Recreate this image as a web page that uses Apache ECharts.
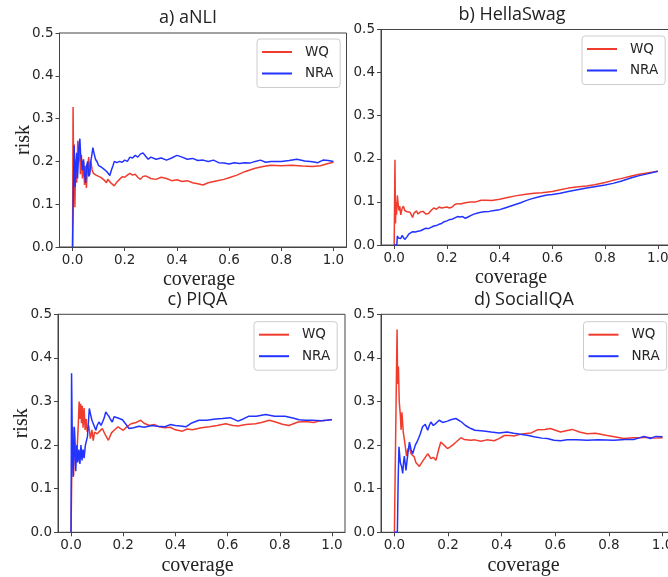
<!DOCTYPE html>
<html>
<head>
<meta charset="utf-8">
<script src="https://cdn.jsdelivr.net/npm/echarts@6/dist/echarts.min.js"></script>
<style>
html,body{margin:0;padding:0;background:#fff;}
#chart{width:668px;height:577px;}
</style>
</head>
<body>
<div id="chart"></div>
<script>
// ---- data ----
const panelTitles = ['a) aNLI', 'b) HellaSwag', 'c) PIQA', 'd) SocialIQA'];
const seriesNames = ['WQ', 'NRA'];
const xTickValues = [0, 0.2, 0.4, 0.6, 0.8, 1.0];
const yTickValues = [0, 0.1, 0.2, 0.3, 0.4, 0.5];

const aNLI_WQ = [[0,0],[0.002,0.327],[0.004,0.2],[0.006,0.24],[0.009,0.093],[0.012,0.2],[0.016,0.15],[0.02,0.248],[0.024,0.2],[0.027,0.235],[0.03,0.17],[0.034,0.215],[0.038,0.16],[0.042,0.2],[0.046,0.145],[0.05,0.19],[0.053,0.138],[0.057,0.18],[0.062,0.21],[0.066,0.175],[0.07,0.2],[0.075,0.18],[0.08,0.172],[0.09,0.168],[0.1,0.165],[0.11,0.162],[0.12,0.157],[0.13,0.15],[0.135,0.158],[0.14,0.156],[0.15,0.148],[0.16,0.143],[0.17,0.152],[0.18,0.158],[0.19,0.164],[0.2,0.163],[0.21,0.168],[0.22,0.172],[0.23,0.168],[0.24,0.17],[0.25,0.163],[0.26,0.158],[0.27,0.165],[0.28,0.166],[0.3,0.16],[0.32,0.158],[0.34,0.163],[0.36,0.16],[0.38,0.155],[0.4,0.157],[0.42,0.153],[0.44,0.155],[0.46,0.15],[0.48,0.148],[0.5,0.145],[0.52,0.15],[0.55,0.154],[0.58,0.158],[0.6,0.162],[0.63,0.168],[0.66,0.176],[0.7,0.184],[0.73,0.188],[0.76,0.191],[0.8,0.19],[0.84,0.191],[0.88,0.189],[0.92,0.188],[0.95,0.19],[0.98,0.195],[1.0,0.198]];
const aNLI_NRA = [[0,0],[0.004,0],[0.006,0.237],[0.008,0.2],[0.01,0.14],[0.013,0.19],[0.016,0.22],[0.019,0.16],[0.022,0.2],[0.025,0.24],[0.028,0.253],[0.031,0.215],[0.035,0.2],[0.038,0.18],[0.042,0.205],[0.046,0.17],[0.05,0.15],[0.054,0.19],[0.058,0.2],[0.062,0.165],[0.066,0.17],[0.07,0.2],[0.074,0.215],[0.078,0.232],[0.082,0.22],[0.088,0.205],[0.095,0.198],[0.1,0.19],[0.11,0.187],[0.12,0.182],[0.13,0.177],[0.137,0.175],[0.143,0.167],[0.148,0.178],[0.155,0.19],[0.16,0.2],[0.17,0.197],[0.18,0.2],[0.19,0.198],[0.2,0.203],[0.21,0.2],[0.22,0.21],[0.23,0.208],[0.24,0.214],[0.25,0.21],[0.26,0.217],[0.27,0.22],[0.28,0.212],[0.29,0.205],[0.3,0.21],[0.32,0.205],[0.34,0.208],[0.36,0.203],[0.38,0.208],[0.4,0.214],[0.42,0.21],[0.44,0.205],[0.46,0.207],[0.48,0.202],[0.5,0.203],[0.52,0.2],[0.54,0.203],[0.56,0.197],[0.58,0.196],[0.6,0.194],[0.62,0.197],[0.64,0.195],[0.66,0.197],[0.68,0.196],[0.7,0.2],[0.72,0.203],[0.74,0.198],[0.76,0.2],[0.78,0.2],[0.8,0.2],[0.83,0.202],[0.86,0.205],[0.89,0.201],[0.92,0.199],[0.94,0.197],[0.96,0.203],[0.98,0.202],[1.0,0.2]];

const hella_WQ = [[0,0],[0.002,0],[0.003,0.198],[0.005,0.05],[0.007,0.1],[0.009,0.07],[0.012,0.115],[0.015,0.095],[0.018,0.08],[0.021,0.09],[0.025,0.07],[0.03,0.085],[0.035,0.09],[0.04,0.08],[0.045,0.082],[0.05,0.077],[0.055,0.073],[0.06,0.076],[0.065,0.07],[0.07,0.064],[0.075,0.074],[0.08,0.076],[0.085,0.079],[0.09,0.072],[0.1,0.077],[0.11,0.078],[0.12,0.072],[0.13,0.073],[0.14,0.08],[0.15,0.086],[0.16,0.083],[0.17,0.088],[0.18,0.086],[0.19,0.087],[0.2,0.088],[0.21,0.086],[0.22,0.088],[0.23,0.094],[0.24,0.096],[0.25,0.095],[0.27,0.098],[0.29,0.1],[0.31,0.1],[0.33,0.104],[0.35,0.104],[0.37,0.103],[0.4,0.106],[0.43,0.11],[0.46,0.114],[0.5,0.118],[0.53,0.12],[0.56,0.121],[0.6,0.124],[0.63,0.128],[0.66,0.132],[0.7,0.135],[0.73,0.137],[0.76,0.14],[0.8,0.145],[0.83,0.15],[0.86,0.154],[0.9,0.16],[0.93,0.164],[0.96,0.167],[1.0,0.171]];
const hella_NRA = [[0,0],[0.01,0],[0.012,0.021],[0.016,0.016],[0.02,0.02],[0.025,0.015],[0.03,0.022],[0.035,0.018],[0.04,0.013],[0.045,0.014],[0.05,0.02],[0.055,0.025],[0.06,0.028],[0.07,0.031],[0.08,0.03],[0.09,0.032],[0.1,0.033],[0.11,0.036],[0.12,0.039],[0.13,0.038],[0.14,0.041],[0.15,0.044],[0.16,0.045],[0.17,0.048],[0.18,0.05],[0.19,0.054],[0.2,0.056],[0.21,0.059],[0.22,0.06],[0.23,0.063],[0.24,0.066],[0.25,0.065],[0.26,0.066],[0.27,0.062],[0.28,0.065],[0.29,0.068],[0.3,0.071],[0.32,0.075],[0.34,0.077],[0.36,0.078],[0.38,0.08],[0.4,0.082],[0.42,0.086],[0.44,0.09],[0.46,0.094],[0.48,0.098],[0.5,0.103],[0.52,0.107],[0.55,0.112],[0.58,0.116],[0.6,0.117],[0.63,0.12],[0.66,0.124],[0.7,0.129],[0.73,0.132],[0.76,0.135],[0.8,0.139],[0.83,0.143],[0.86,0.148],[0.9,0.156],[0.93,0.161],[0.96,0.165],[1.0,0.171]];

const piqa_WQ = [[0,0],[0.003,0],[0.005,0.242],[0.008,0.17],[0.01,0.13],[0.013,0.24],[0.016,0.2],[0.02,0.16],[0.024,0.2],[0.028,0.25],[0.031,0.3],[0.034,0.26],[0.037,0.295],[0.04,0.25],[0.043,0.29],[0.046,0.24],[0.05,0.285],[0.054,0.235],[0.058,0.26],[0.062,0.23],[0.068,0.245],[0.074,0.215],[0.08,0.235],[0.085,0.21],[0.09,0.23],[0.1,0.226],[0.11,0.232],[0.12,0.238],[0.13,0.225],[0.143,0.211],[0.155,0.228],[0.165,0.234],[0.18,0.242],[0.19,0.238],[0.2,0.234],[0.21,0.24],[0.23,0.249],[0.25,0.252],[0.267,0.257],[0.28,0.25],[0.3,0.245],[0.32,0.247],[0.337,0.242],[0.36,0.24],[0.38,0.241],[0.4,0.235],[0.427,0.232],[0.445,0.237],[0.465,0.235],[0.5,0.24],[0.53,0.242],[0.56,0.245],[0.593,0.249],[0.62,0.245],[0.64,0.244],[0.67,0.247],[0.707,0.249],[0.73,0.252],[0.76,0.257],[0.79,0.252],[0.81,0.248],[0.835,0.245],[0.87,0.253],[0.9,0.254],[0.93,0.252],[0.95,0.255],[0.98,0.257],[1.0,0.259]];
const piqa_NRA = [[0,0],[0.002,0.365],[0.005,0.2],[0.008,0.127],[0.012,0.242],[0.015,0.18],[0.018,0.14],[0.022,0.2],[0.026,0.16],[0.03,0.19],[0.034,0.157],[0.038,0.2],[0.042,0.165],[0.046,0.19],[0.05,0.17],[0.055,0.2],[0.063,0.22],[0.07,0.284],[0.075,0.27],[0.08,0.257],[0.088,0.245],[0.095,0.234],[0.1,0.245],[0.107,0.253],[0.115,0.245],[0.12,0.242],[0.127,0.262],[0.133,0.276],[0.14,0.27],[0.146,0.265],[0.152,0.258],[0.158,0.253],[0.165,0.265],[0.17,0.263],[0.18,0.262],[0.197,0.258],[0.21,0.248],[0.222,0.238],[0.24,0.24],[0.26,0.243],[0.28,0.241],[0.31,0.245],[0.33,0.243],[0.36,0.242],[0.38,0.247],[0.4,0.245],[0.42,0.244],[0.44,0.242],[0.46,0.25],[0.49,0.257],[0.52,0.257],[0.554,0.26],[0.58,0.261],[0.61,0.263],[0.64,0.255],[0.66,0.26],[0.68,0.266],[0.71,0.266],[0.746,0.27],[0.78,0.266],[0.82,0.266],[0.85,0.262],[0.874,0.258],[0.9,0.257],[0.925,0.257],[0.96,0.256],[1.0,0.258]];

const social_WQ = [[0,0],[0.006,0],[0.008,0.38],[0.01,0.465],[0.012,0.34],[0.015,0.38],[0.018,0.3],[0.022,0.27],[0.025,0.235],[0.028,0.275],[0.033,0.23],[0.04,0.2],[0.045,0.175],[0.05,0.19],[0.056,0.196],[0.062,0.18],[0.068,0.18],[0.074,0.173],[0.08,0.16],[0.087,0.157],[0.093,0.151],[0.1,0.158],[0.105,0.161],[0.115,0.172],[0.124,0.18],[0.13,0.175],[0.136,0.169],[0.145,0.172],[0.155,0.165],[0.165,0.19],[0.173,0.207],[0.185,0.2],[0.198,0.192],[0.208,0.196],[0.217,0.2],[0.23,0.207],[0.248,0.217],[0.26,0.213],[0.285,0.211],[0.3,0.212],[0.322,0.209],[0.345,0.212],[0.372,0.21],[0.39,0.215],[0.41,0.222],[0.43,0.222],[0.446,0.221],[0.465,0.224],[0.483,0.226],[0.51,0.228],[0.533,0.235],[0.56,0.236],[0.582,0.238],[0.6,0.234],[0.62,0.23],[0.64,0.233],[0.663,0.236],[0.69,0.23],[0.719,0.226],[0.75,0.227],[0.793,0.222],[0.82,0.219],[0.855,0.215],[0.89,0.217],[0.917,0.217],[0.94,0.218],[0.97,0.216],[1.0,0.217]];
const social_NRA = [[0,0],[0.011,0],[0.014,0.12],[0.017,0.196],[0.022,0.16],[0.027,0.15],[0.031,0.135],[0.034,0.16],[0.037,0.175],[0.043,0.142],[0.05,0.18],[0.056,0.207],[0.062,0.19],[0.068,0.18],[0.078,0.2],[0.087,0.211],[0.096,0.225],[0.105,0.242],[0.115,0.248],[0.124,0.234],[0.13,0.245],[0.136,0.253],[0.145,0.245],[0.155,0.25],[0.167,0.257],[0.18,0.252],[0.198,0.255],[0.21,0.258],[0.229,0.261],[0.248,0.254],[0.265,0.245],[0.285,0.238],[0.3,0.234],[0.322,0.233],[0.34,0.232],[0.36,0.23],[0.39,0.228],[0.42,0.23],[0.445,0.227],[0.47,0.225],[0.5,0.222],[0.52,0.219],[0.55,0.216],[0.57,0.215],[0.595,0.211],[0.62,0.21],[0.644,0.212],[0.68,0.212],[0.719,0.211],[0.76,0.212],[0.818,0.211],[0.86,0.213],[0.892,0.213],[0.91,0.216],[0.93,0.22],[0.954,0.215],[0.975,0.22],[1.0,0.219]];

const panelData = [[aNLI_WQ, aNLI_NRA], [hella_WQ, hella_NRA], [piqa_WQ, piqa_NRA], [social_WQ, social_NRA]];

// ---- layout / style ----
const lineColors = ['#f03c2e', '#2233ff'];
const grids = [
  {left: 59.5, top: 33, width: 287, height: 214},
  {left: 381, top: 29.5, width: 290, height: 215.5},
  {left: 58, top: 314.3, width: 287, height: 218},
  {left: 381, top: 314.3, width: 295, height: 218}
];
const titlePos = [{x: 188, y: 9}, {x: 512, y: 6}, {x: 197.5, y: 291}, {x: 524, y: 291}];
const coveragePad = [8, 30, 8, 10];
const legendPos = [{x: 257, y: 39}, {x: 582, y: 36}, {x: 254, y: 321.7}, {x: 583.5, y: 321.7}];
const axisColor = '#444';
const textColor = '#262626';

const option = {
  animation: false,
  backgroundColor: '#ffffff',
  title: panelTitles.map((t, i) => ({
    text: t, left: titlePos[i].x, top: titlePos[i].y, textAlign: 'center', padding: 0,
    textStyle: {fontFamily: 'Open Sans', fontSize: 18, fontWeight: 'normal', color: '#222'}
  })),
  grid: grids.map(g => Object.assign({show: true, borderColor: axisColor, borderWidth: 1, backgroundColor: 'transparent', outerBoundsMode: 'none', containLabel: false}, g)),
  legend: legendPos.map(p => ({
    data: seriesNames, orient: 'vertical', left: p.x, top: p.y,
    padding: [6, 7, 7, 5], itemWidth: 30, itemHeight: 2, icon: 'rect', itemGap: 7.5,
    backgroundColor: 'rgba(255,255,255,0.85)', borderColor: '#cccccc', borderWidth: 1, borderRadius: 3,
    selectedMode: false,
    textStyle: {fontFamily: 'DejaVu Sans', fontSize: 13.5, color: textColor, lineHeight: 14, padding: [0, 0, 0, 8]}
  })),
  xAxis: grids.map((g, i) => ({
    gridIndex: i, type: 'value', min: -0.05, max: 1.05,
    name: 'coverage', nameLocation: 'middle', nameGap: 23, nameMoveOverlap: false,
    nameTextStyle: {fontFamily: 'Liberation Serif', fontSize: 20, color: '#222', padding: [0, coveragePad[i], 0, 0]},
    axisLine: {show: true, onZero: false, lineStyle: {color: axisColor, width: 1}},
    axisTick: {show: true, customValues: xTickValues, length: 4, lineStyle: {color: axisColor}},
    axisLabel: {customValues: xTickValues, formatter: v => v.toFixed(1), fontFamily: 'DejaVu Sans', fontSize: 13.5, color: textColor, margin: 6},
    splitLine: {show: false}
  })),
  yAxis: grids.map((g, i) => ({
    gridIndex: i, type: 'value', min: 0, max: 0.5, interval: 0.1,
    name: (i % 2 === 0) ? 'risk' : '', nameLocation: 'middle', nameGap: 26, nameRotate: 90, nameMoveOverlap: false,
    nameTextStyle: {fontFamily: 'Liberation Serif', fontSize: 20, color: '#222'},
    axisLine: {show: true, onZero: false, lineStyle: {color: axisColor, width: 1}},
    axisTick: {show: true, length: 4, lineStyle: {color: axisColor}},
    axisLabel: {formatter: v => v.toFixed(1), fontFamily: 'DejaVu Sans', fontSize: 13.5, color: textColor, margin: 6},
    splitLine: {show: false}
  })),
  series: []
};

panelData.forEach((pair, i) => {
  pair.forEach((d, k) => {
    option.series.push({
      name: seriesNames[k], type: 'line', xAxisIndex: i, yAxisIndex: i,
      data: d, symbol: 'none', showSymbol: false, clip: true,
      color: lineColors[k],
      lineStyle: {color: lineColors[k], width: 1.5}
    });
  });
});

const chart = echarts.init(document.getElementById('chart'), null, {renderer: 'canvas'});
chart.setOption(option);
</script>
</body>
</html>
